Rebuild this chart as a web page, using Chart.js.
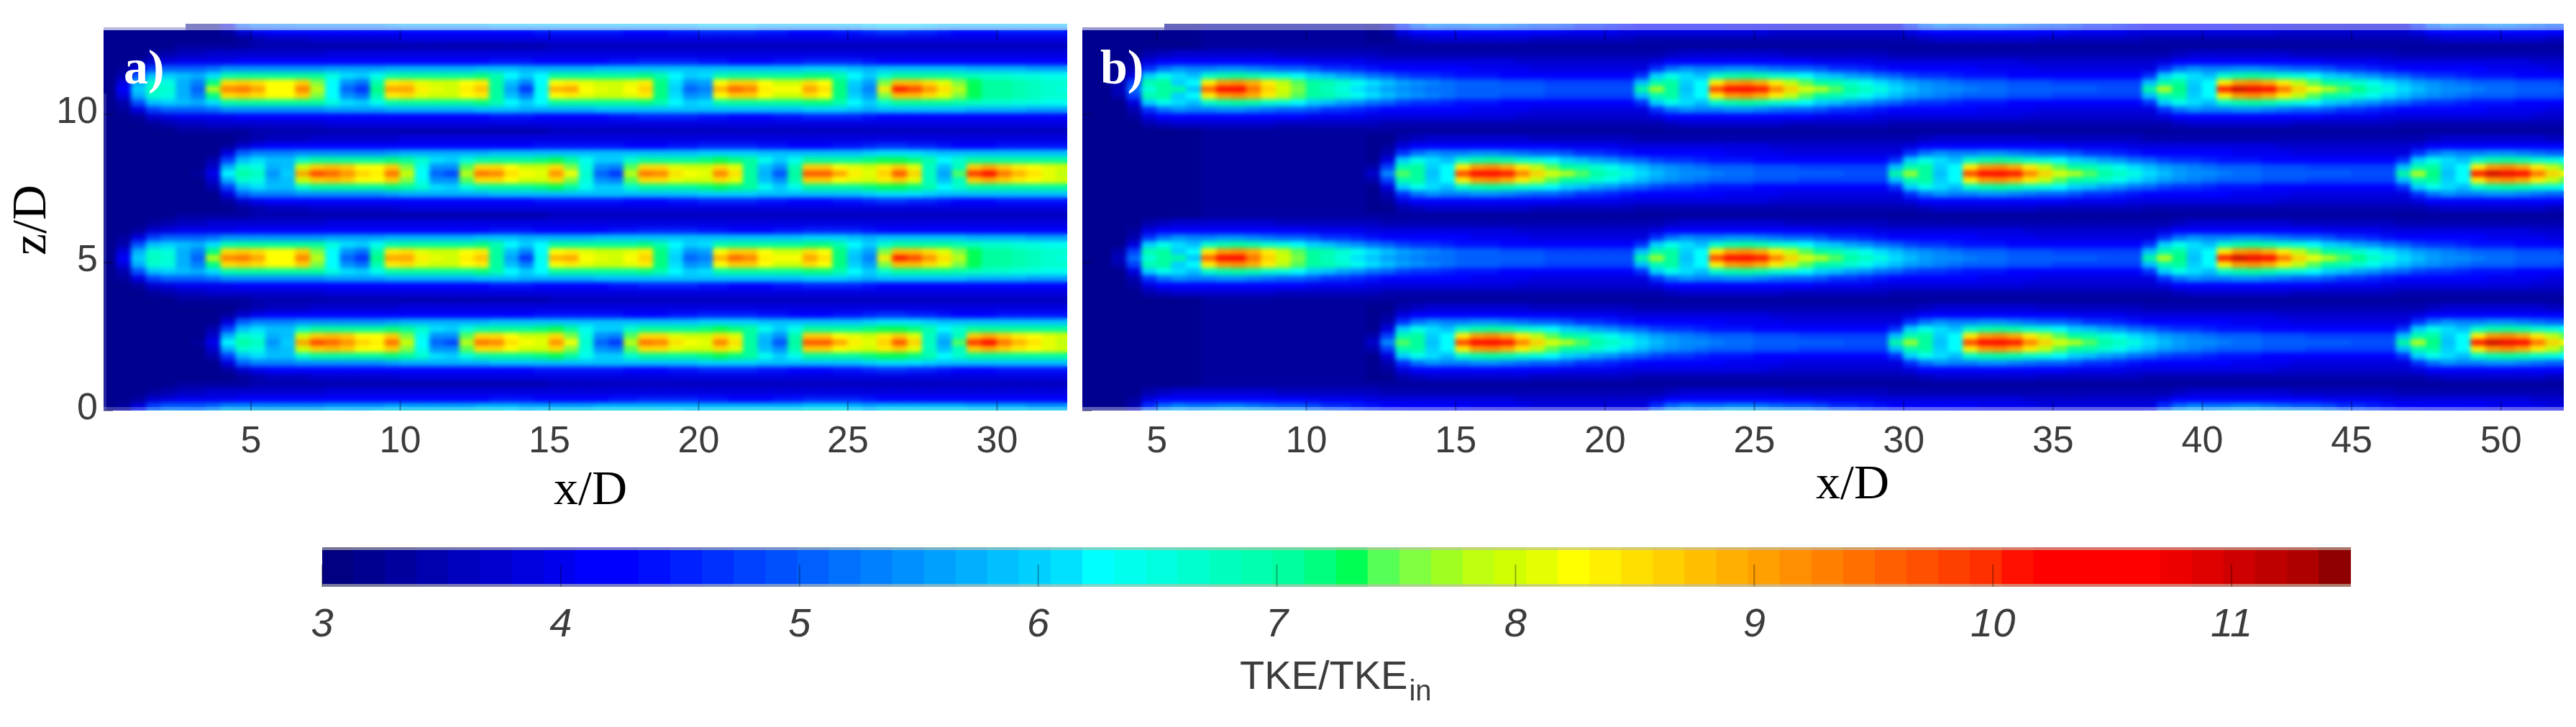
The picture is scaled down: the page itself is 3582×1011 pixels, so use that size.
<!DOCTYPE html>
<html><head><meta charset="utf-8">
<script src="https://cdn.jsdelivr.net/npm/chart.js@4"></script>
<style>
html,body{margin:0;padding:0;background:#fff;width:3582px;height:1011px;overflow:hidden}
canvas{position:absolute}
.t{position:absolute;white-space:nowrap;line-height:1}
.ax{font-family:"Liberation Serif",serif;color:#000;font-size:68px}
.pl{font-family:"Liberation Serif",serif;color:#fff;font-size:68px;font-weight:bold}
.cb{font-family:"Liberation Sans",sans-serif;color:#3c3c3c;font-size:56px}
.cb sub{font-size:40px;vertical-align:-16px;margin-left:2px}
</style></head><body>
<canvas id="pa" width="1490" height="730" style="left:0;top:0"></canvas>
<canvas id="pb" width="2092" height="730" style="left:1490px;top:0"></canvas>
<canvas id="cb" width="3000" height="230" style="left:380px;top:740px"></canvas>
<div class="t pl" style="left:172px;top:59px">a)</div>
<div class="t pl" style="left:1530px;top:59px">b)</div>
<div class="t ax" style="left:770px;top:644px">x/D</div>
<div class="t ax" style="left:2525px;top:636px">x/D</div>
<div class="t ax" style="left:-3px;top:272px;transform-origin:50% 50%;transform:translate(-6px,0) rotate(-90deg)" id="zl">z/D</div>
<div class="t cb" style="left:1724px;top:911px">TKE/TKE<sub>in</sub></div>
<script>
// value axis of the colour bar and its 64 steps
const cbTicks=[3,4,5,6,7,8,9,10,11];
const palette=["#000080","#00008f","#00009f","#0000af","#0000bf","#0000cf","#0000df","#0000ef","#0000ff","#0000ff","#0010ff","#0020ff","#0030ff","#0040ff","#0050ff","#0060ff","#0070ff","#0080ff","#0090ff","#00a0ff","#00b0ff","#00c0ff","#00d0ff","#00e0ff","#00ffff","#00ffef","#00ffdf","#00ffcf","#00ffbf","#00ffaf","#00ff9f","#00ff80","#00ff55","#55ff55","#80ff40","#a0ff20","#bfff10","#cfff00","#e5ff00","#ffff00","#ffef00","#ffdf00","#ffcf00","#ffbf00","#ffaf00","#ff9f00","#ff8f00","#ff7f00","#ff6f00","#ff5f00","#ff4f00","#ff3f00","#ff2f00","#ff1000","#ff0000","#ff0000","#ff0000","#ff0000","#ef0000","#df0000","#cf0000","#bf0000","#af0000","#8f0000"];
const xTicksA=[5,10,15,20,25,30];
const xTicksB=[5,10,15,20,25,30,35,40,45,50];
const zTicks=[0,5,10];

// Panel a: wake rows at 0.5 D steps from x/D = 0.25. c = centre line, L1..L5 = rows moving away from it
const a1c=[3.2,4.2,6.0,6.8,6.7,5.7,5.1,7.8,9.3,9.5, 9.1,8.3,8.2,9.3,7.8,6.3,5.0,4.6,7.2,9.0, 9.1,8.4,8.1,8.0,8.4,8.8,7.1,5.6,4.7,6.4, 8.9,9.0,8.3,8.1,8.0,8.2,8.7,7.2,6.0,5.0, 5.3,8.9,9.6,9.3,8.4,8.2,8.2,9.1,8.5,7.2, 5.9,5.3,8.4,10.1,9.9,9.2,8.5,7.8,7.3,7.1, 7.0,6.9,6.8,6.6,6.5];
const a1L1=[3.2,3.9,5.7,6.6,6.5,5.7,5.3,7.2,8.5,8.7, 8.5,8.2,8.2,8.6,7.6,6.3,5.4,5.2,6.9,8.4, 8.5,8.1,8.0,8.0,8.2,8.4,7.1,5.9,5.3,6.3, 8.3,8.4,8.1,8.0,8.0,8.1,8.4,7.2,6.1,5.5, 5.6,8.2,8.7,8.6,8.2,8.0,8.0,8.5,8.3,7.2, 6.0,5.6,7.6,8.8,8.8,8.5,8.1,7.6,7.3,7.1, 7.0,6.9,6.8,6.7,6.6];
const a1L2=[3.2,3.5,4.9,5.9,6.0,5.9,5.7,6.1,6.9,7.0, 7.0,7.0,7.0,7.1,7.0,6.5,6.1,6.0,6.4,6.9, 7.0,7.0,7.0,7.1,7.1,7.2,6.9,6.3,6.0,6.3, 7.0,7.0,7.0,7.0,7.0,7.1,7.2,6.9,6.3,6.0, 6.1,6.9,7.1,7.1,7.1,7.0,7.1,7.2,7.2,6.9, 6.3,6.0,6.6,7.1,7.1,7.0,7.0,6.9,6.8,6.7, 6.6,6.5,6.5,6.4,6.4];
const a1L3=[3.2,3.3,3.9,4.8,5.1,5.1,5.1,5.2,5.4,5.4, 5.5,5.5,5.5,5.5,5.5,5.6,5.6,5.6,5.6,5.7, 5.7,5.7,5.7,5.7,5.7,5.8,5.8,5.8,5.7,5.7, 5.7,5.7,5.7,5.8,5.8,5.8,5.9,5.9,5.8,5.8, 5.8,5.8,5.8,5.8,5.8,5.8,5.9,6.0,6.0,6.0, 5.8,5.7,5.8,5.8,5.8,5.8,5.8,5.8,5.7,5.7, 5.7,5.7,5.6,5.6,5.6];
const a1L4=[3.2,3.2,3.3,3.7,3.9,4.0,4.0,4.0,4.0,4.1, 4.1,4.1,4.1,4.1,4.2,4.2,4.2,4.2,4.2,4.2, 4.3,4.3,4.3,4.3,4.3,4.3,4.4,4.4,4.4,4.3, 4.3,4.3,4.3,4.3,4.4,4.4,4.5,4.5,4.5,4.5, 4.4,4.4,4.3,4.3,4.3,4.4,4.4,4.5,4.5,4.5, 4.5,4.4,4.3,4.3,4.3,4.3,4.3,4.3,4.3,4.3, 4.3,4.3,4.2,4.2,4.2];
const a1L5=[3.2,3.2,3.2,3.3,3.5,3.6,3.6,3.7,3.7,3.7, 3.7,3.7,3.7,3.7,3.7,3.8,3.8,3.8,3.8,3.8, 3.8,3.8,3.8,3.8,3.8,3.8,3.8,3.8,3.8,3.8, 3.8,3.8,3.8,3.8,3.8,3.8,3.9,3.9,3.9,3.9, 3.9,3.8,3.8,3.8,3.8,3.8,3.8,3.9,3.9,3.9, 3.9,3.8,3.8,3.8,3.8,3.8,3.8,3.8,3.8,3.8, 3.8,3.8,3.8,3.8,3.8];
const a2c=[3.2,3.2,3.2,3.2,3.2,3.2,3.3,4.0,6.2,7.0, 6.8,5.5,6.0,9.1,9.8,9.6,9.2,8.6,8.4,9.4, 8.0,6.3,5.1,4.8,7.8,9.4,9.3,8.5,8.2,8.1, 9.2,8.2,6.6,5.1,4.7,7.9,9.4,9.3,8.5,8.2, 8.1,9.3,8.5,7.0,5.7,4.9,7.1,9.7,9.7,9.0, 8.4,8.1,8.6,9.7,8.7,6.8,5.6,7.4,10.0,10.3, 9.5,8.9,8.5,8.1,7.8];
const a2L1=[3.2,3.2,3.2,3.2,3.2,3.2,3.2,3.7,5.7,6.6, 6.5,5.7,5.9,8.0,8.7,8.8,8.6,8.3,8.3,8.6, 7.6,6.4,5.5,5.4,7.4,8.5,8.5,8.2,8.0,8.0, 8.5,7.6,6.5,5.4,5.3,7.4,8.5,8.5,8.1,8.0, 8.0,8.5,8.1,7.0,5.9,5.4,6.9,8.6,8.7,8.3, 8.1,8.0,8.4,8.6,8.1,6.8,5.9,6.8,8.6,8.9, 8.7,8.4,8.3,8.1,8.0];
const a2L2=[3.2,3.2,3.2,3.2,3.2,3.2,3.2,3.4,4.8,5.9, 6.1,5.9,5.8,6.6,7.0,7.0,7.0,7.1,7.1,7.2, 7.1,6.6,6.1,6.0,6.5,6.9,7.0,7.0,7.1,7.2, 7.3,7.0,6.4,6.0,6.0,6.6,7.0,7.0,7.0,7.1, 7.2,7.3,7.2,7.0,6.4,6.0,6.4,7.0,7.0,7.0, 7.1,7.2,7.3,7.3,7.2,6.9,6.3,6.6,7.0,7.1, 7.1,7.1,7.1,7.0,7.0];
const a2L3=[3.2,3.2,3.2,3.2,3.2,3.2,3.2,3.2,3.9,5.0, 5.3,5.3,5.3,5.5,5.5,5.5,5.5,5.5,5.5,5.6, 5.7,5.7,5.7,5.7,5.7,5.7,5.8,5.8,5.8,5.9, 5.9,5.9,5.9,5.9,5.8,5.8,5.8,5.8,5.9,5.9, 6.0,6.0,6.0,6.0,5.9,5.8,5.8,5.8,5.8,5.9, 5.9,6.0,6.1,6.1,6.1,6.0,5.9,5.8,5.8,5.8, 5.8,5.9,5.9,5.9,5.9];
const a2L4=[3.2,3.2,3.2,3.2,3.2,3.2,3.2,3.2,3.3,3.7, 4.0,4.1,4.1,4.1,4.1,4.1,4.1,4.1,4.2,4.2, 4.3,4.3,4.3,4.3,4.3,4.3,4.3,4.3,4.3,4.4, 4.4,4.4,4.4,4.4,4.4,4.3,4.3,4.3,4.4,4.4, 4.5,4.5,4.5,4.5,4.4,4.4,4.3,4.3,4.3,4.4, 4.4,4.5,4.6,4.6,4.5,4.5,4.4,4.3,4.3,4.3, 4.4,4.4,4.4,4.4,4.4];
const a2L5=[3.2,3.2,3.2,3.2,3.2,3.2,3.2,3.2,3.2,3.3, 3.5,3.6,3.6,3.6,3.7,3.7,3.7,3.7,3.7,3.7, 3.8,3.8,3.8,3.8,3.8,3.8,3.8,3.8,3.8,3.8, 3.8,3.8,3.8,3.8,3.8,3.8,3.8,3.8,3.8,3.8, 3.9,3.9,3.9,3.9,3.8,3.8,3.8,3.8,3.8,3.8, 3.9,3.9,3.9,3.9,3.9,3.8,3.8,3.8,3.8,3.8, 3.8,3.8,3.8,3.8,3.8];
const aMid=[3.2,3.2,3.2,3.2,3.2,3.3,3.3,3.3,3.3,3.3, 3.4,3.4,3.4,3.4,3.4,3.5,3.5,3.5,3.5,3.5, 3.5,3.5,3.5,3.5,3.5,3.5,3.5,3.5,3.5,3.5, 3.6,3.6,3.6,3.6,3.6,3.6,3.6,3.6,3.6,3.6, 3.6,3.6,3.6,3.6,3.6,3.6,3.6,3.6,3.6,3.6, 3.6,3.6,3.6,3.6,3.6,3.6,3.6,3.6,3.6,3.6, 3.6,3.6,3.6,3.6,3.6];

// Panel b: one 17 D stretch of a wake at 0.5 D steps, starting at the nose of the wake
const b1st=[3.6,5.2,6.5,7.1,7.0,5.8,9.6,10.6,10.3,9.5, 8.6,8.0,7.6,7.1,6.8,6.5,6.1,5.9,5.6,5.4, 5.3,5.2,5.2,5.1,5.1,5.0,5.0,5.0,5.0,4.9, 4.9,4.9,4.9,4.9];
const b1stLower=[3.7,5.5,7.4,7.0,5.8,6.3,9.9,10.7,10.6,10.1, 9.3,8.6,8.1,7.8,7.4,7.1,6.8,6.5,6.1,5.8, 5.6,5.5,5.4,5.3,5.2,5.2,5.1,5.1,5.0,5.0, 5.0,5.0,4.9,4.9];
const b2nd=[4.9,7.0,7.7,7.1,5.8,6.3,9.9,10.7,10.6,10.1, 9.3,8.6,8.1,7.8,7.4,7.1,6.8,6.5,6.1,5.8, 5.6,5.5,5.4,5.3,5.2,5.2,5.1,5.1,5.0,5.0, 5.0,5.0,4.9,4.9];
const b3rd=[4.9,7.1,7.9,7.2,5.8,6.3,10.1,11.0,10.8,10.2, 9.4,8.7,8.2,7.9,7.5,7.2,6.8,6.5,6.1,5.8, 5.6,5.5,5.4,5.3,5.2,5.2,5.1,5.1,5.0,5.0, 5.0,5.0,4.9,4.9];
const bL1=[4.8,5.8,6.9,7.0,6.0,6.2,8.4,9.1,9.2,8.9, 8.4,7.9,7.4,7.1,6.9,6.6,6.4,6.1,5.9,5.6, 5.4,5.3,5.2,5.1,5.0,5.0,4.9,4.9,4.9,4.8, 4.8,4.8,4.8,4.8];
const bL2=[4.2,4.7,6.0,6.4,6.1,5.9,6.6,6.9,7.0,6.9, 6.7,6.5,6.2,6.0,5.8,5.6,5.4,5.2,5.0,4.8, 4.7,4.6,4.5,4.4,4.4,4.4,4.3,4.3,4.3,4.3, 4.2,4.2,4.2,4.2];
const bL3=[3.9,3.9,4.7,5.2,5.4,5.3,5.3,5.4,5.4,5.3, 5.2,5.1,5.0,4.9,4.7,4.6,4.5,4.4,4.3,4.3, 4.2,4.2,4.1,4.1,4.0,4.0,4.0,4.0,3.9,3.9, 3.9,3.9,3.9,3.9];
const bL4=[3.7,3.7,3.9,4.2,4.3,4.3,4.2,4.2,4.2,4.1, 4.1,4.1,4.1,4.0,4.0,4.0,4.0,3.9,3.9,3.9, 3.9,3.9,3.8,3.8,3.8,3.8,3.8,3.7,3.7,3.7, 3.7,3.7,3.7,3.7];
const bL5=[3.4,3.5,3.5,3.6,3.7,3.7,3.7,3.7,3.7,3.7, 3.7,3.6,3.6,3.6,3.6,3.6,3.6,3.6,3.5,3.5, 3.5,3.5,3.5,3.5,3.5,3.5,3.5,3.5,3.5,3.5, 3.4,3.4,3.4,3.4];
const bMidSeg=[3.3,3.3,3.3,3.3,3.3,3.3,3.3,3.3,3.3,3.3, 3.3,3.3,3.3,3.3,3.3,3.3,3.3,3.3,3.3,3.3, 3.3,3.3,3.3,3.3,3.3,3.3,3.3,3.3,3.3,3.3, 3.3,3.3,3.3,3.3];
// first nose of a row has nothing upstream of it, so it starts from the dark background
const noseL1=[3.4,4.8], noseL2=[3.2,3.8], noseL3=[3.2,3.4], noseL4=[3.2,3.3], noseL5=[3.2,3.2], noseMid=[3.3,3.3];
const bPre1=[3.2,3.2];
const bPre2=[3.2,3.2,3.2,3.2,3.2,3.2,3.2,3.2,3.3,3.3,3.3,3.3,3.3,3.3,3.3,3.3,3.3,3.3,3.3];
const wakeCentres=[-0.55,2.3,5.15,8.0,10.85,13.7]; // z/D of each row of wakes

const wakeA=[[a1c,a1L1,a1L2,a1L3,a1L4,a1L5],[a2c,a2L1,a2L2,a2L3,a2L4,a2L5]];
const rep=(p,n,s)=>[...p,...n,...s.slice(2),...s,...s];
const wakeB=[
 [[...bPre1,...b1st,...b2nd,...b3rd],rep(bPre1,noseL1,bL1),rep(bPre1,noseL2,bL2),rep(bPre1,noseL3,bL3),rep(bPre1,noseL4,bL4),rep(bPre1,noseL5,bL5)],
 [[...bPre2,...b1stLower,...b2nd,...b3rd],rep(bPre2,noseL1,bL1),rep(bPre2,noseL2,bL2),rep(bPre2,noseL3,bL3),rep(bPre2,noseL4,bL4),rep(bPre2,noseL5,bL5)]
];
const bMid=rep(bPre2,noseMid,bMidSeg);
const dz=2.85/12;
const colour=v=>palette[Math.max(0,Math.min(63,Math.floor((v-3)/8.5*64)))];

function datasets(wakes,mid,x0){
  const rows=[];
  wakeCentres.forEach((zc,w)=>{
    const t=wakes[w%2===0?0:1];
    for(let k=5;k>=1;k--){rows.push({z:zc+k*dz,v:t[k]});rows.push({z:zc-k*dz,v:t[k]});}
    rows.push({z:zc,v:t[0]});
    rows.push({z:zc+6*dz,v:mid});
  });
  return rows.map(r=>({
    data:r.v.map((v,i)=>({x:x0+0.5*i,y:[r.z-dz/2-0.01,r.z+dz/2+0.01]})),
    backgroundColor:r.v.map(colour),
    borderWidth:0,barThickness:22,grouped:false
  }));
}
const smooth={id:'smooth',afterDatasetsDraw(c){
  const o=c.options.plugins.smooth; if(!o||!o.r) return;
  const a=c.chartArea,w=a.right-a.left,h=a.bottom-a.top,x=c.ctx;
  x.save();x.setTransform(1,0,0,1,0,0);x.filter='blur('+o.r+'px)';
  x.beginPath();x.rect(a.left,a.top,w,h);x.clip();
  x.drawImage(c.canvas,a.left,a.top,w,h,a.left,a.top,w,h);x.restore();
}};
const marks={id:'marks',afterDraw(c){
  const o=c.options.plugins.marks; if(!o) return;
  const a=c.chartArea,x=c.ctx; x.save();
  (o.bands||[]).forEach(b=>{x.fillStyle=b[4];x.fillRect(a.left+b[0],a.top+b[1],(b[2]<0?a.right-a.left:b[2])-b[0],b[3]);});
  x.lineWidth=2;x.strokeStyle=o.tick||'rgba(0,0,30,.35)';
  c.scales.x.ticks.forEach(t=>{const p=c.scales.x.getPixelForValue(t.value);
    x.beginPath();x.moveTo(p,a.bottom);x.lineTo(p,a.bottom-o.len);
    if(o.topTicks){x.moveTo(p,a.top+9);x.lineTo(p,a.top+9+o.len);} x.stroke();});
  if(o.yTicks) c.scales.y.ticks.forEach(t=>{const p=c.scales.y.getPixelForValue(t.value);
    x.beginPath();x.moveTo(a.left,p);x.lineTo(a.left+13,p);x.stroke();});
  x.restore();
}};
const tickFont={family:'"Liberation Sans Narrow","Liberation Sans",sans-serif',size:52};
function panel(id,wakes,mid,x0,min,max,xt,yw,padR,ytShow,bands){
  new Chart(document.getElementById(id),{
    type:'bar',
    data:{datasets:datasets(wakes,mid,x0)},
    plugins:[smooth,marks],
    options:{responsive:false,animation:false,devicePixelRatio:1,events:[],
      layout:{padding:{top:33,right:padR,left:0,bottom:0}},
      plugins:{legend:{display:false},tooltip:{enabled:false},smooth:{r:3},marks:{len:13,topTicks:true,yTicks:true,bands}},
      scales:{
        x:{type:'linear',offset:false,min,max,
          afterBuildTicks:s=>{s.ticks=xt.map(v=>({value:v}));},
          afterFit:s=>{s.height=159;},
          grid:{display:false},border:{display:false},
          ticks:{color:'#3c3c3c',font:tickFont,padding:4,autoSkip:false,maxRotation:0,callback:v=>String(v)}},
        y:{type:'linear',min:0,max:13.06,
          afterBuildTicks:s=>{s.ticks=zTicks.map(v=>({value:v}));},
          afterFit:s=>{s.width=yw;},
          grid:{display:false},border:{display:false},
          ticks:{display:ytShow,color:'#3c3c3c',font:tickFont,padding:0,labelOffset:-2,callback:v=>String(v)}}
      }}
  });
}
panel('pa',wakeA,aMid,0.25,0.06,32.35,xTicksA,144,6,true,[
  [0,0,114,5,'#fff'],[0,5,114,4,'rgba(255,255,255,.72)'],[114,0,-1,9,'rgba(255,255,255,.5)'],
  [0,533,-1,5,'rgba(255,255,255,.22)'],[0,97,4,441,'rgba(255,255,255,.14)']]);
panel('pb',wakeB,bMid,2.75,2.5,52.1,xTicksB,15,2092-(3565-1490),false,[
  [0,0,114,5,'#fff'],[0,5,114,4,'rgba(255,255,255,.6)'],[114,0,-1,9,'rgba(255,255,255,.4)'],
  [0,533,-1,5,'rgba(255,255,255,.36)']]);

new Chart(document.getElementById('cb'),{
  type:'bar',
  data:{datasets:[{
    data:palette.map((c,i)=>({x:3+(i+0.5)*8.5/64,y:[0,1]})),
    backgroundColor:palette,borderWidth:0,barThickness:45,grouped:false}]},
  plugins:[marks],
  options:{responsive:false,animation:false,devicePixelRatio:1,events:[],
    layout:{padding:{top:21,right:111,left:0,bottom:0}},
    plugins:{legend:{display:false},tooltip:{enabled:false},
      marks:{len:31,tick:'rgba(0,0,0,.3)',bands:[[0,0,-1,4,'rgba(190,190,170,.62)'],[0,51,-1,4,'rgba(190,190,170,.62)']]}},
    scales:{
      x:{type:'linear',offset:false,min:3,max:11.5,
        afterBuildTicks:s=>{s.ticks=cbTicks.map(v=>({value:v}));},
        afterFit:s=>{s.height=154;},
        grid:{display:false},border:{display:false},
        ticks:{color:'#3c3c3c',font:{family:'"Liberation Sans",sans-serif',size:56,style:'italic'},padding:12,autoSkip:false,maxRotation:0,callback:v=>String(v)}},
      y:{display:true,min:0,max:1,afterFit:s=>{s.width=68;},grid:{display:false},border:{display:false},ticks:{display:false}}
    }}
});
</script>
</body></html>
